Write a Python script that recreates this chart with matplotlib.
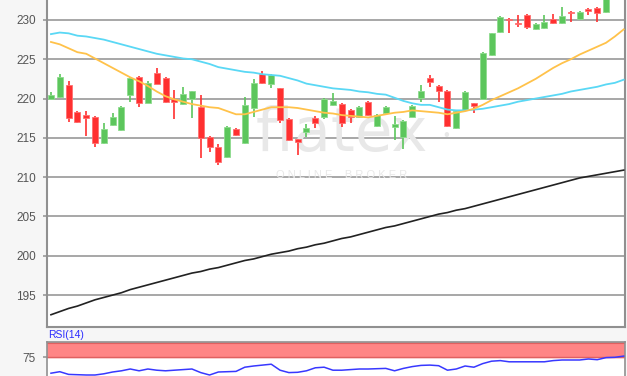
import numpy as np
import matplotlib
matplotlib.use("Agg")
import matplotlib.pyplot as plt

nan = np.nan
opens = [220.0, 220.2, 221.7, 218.3, 217.9, 217.7, 214.3, 216.6, 216.0, 220.5,
         222.8, 219.5, 223.3, 222.6, 220.0, 219.3, 220.0, 218.9, 215.1, 213.9,
         212.6, 216.1, 214.3, 218.8, 223.1, 221.8, 221.3, 217.4, 214.8, 215.8,
         217.5, 217.6, 219.2, 219.3, 218.5, 217.6, 219.6, 216.5, 218.2, 216.4,
         215.1, 217.7, 220.1, 222.6, 221.6, 221.0, 216.2, 218.5, 219.4, 220.0,
         225.5, 228.5, 230.1, 229.6, 230.6, 228.8, 229.0, 230.1, 229.6, 231.0,
         230.1, 231.4, 231.5, 231.0, nan, nan]
highs = [220.8, 223.1, 222.2, 218.4, 218.4, 217.8, 216.9, 218.2, 219.1, 222.8,
         222.9, 222.2, 223.9, 222.8, 221.1, 221.5, 221.0, 220.5, 215.2, 214.2,
         216.5, 216.2, 220.2, 222.5, 223.5, 223.1, 221.4, 217.5, 214.9, 216.8,
         217.8, 220.1, 220.7, 219.4, 218.7, 219.0, 219.7, 218.0, 219.0, 217.8,
         217.3, 219.2, 221.7, 223.0, 221.7, 221.1, 218.6, 220.9, 219.5, 225.9,
         228.4, 230.5, 230.2, 230.6, 230.7, 229.6, 230.6, 230.8, 231.6, 231.2,
         231.1, 231.5, 231.6, 233.5, nan, nan]
lows = [219.9, 220.1, 217.0, 216.9, 215.3, 213.9, 214.2, 216.5, 215.9, 219.6,
        218.9, 219.4, 221.8, 219.5, 217.4, 219.2, 217.5, 212.4, 213.2, 211.6,
        212.5, 215.3, 214.2, 217.6, 221.9, 221.3, 216.9, 214.6, 212.8, 215.1,
        216.3, 217.4, 219.1, 216.4, 216.9, 217.5, 217.8, 216.4, 218.1, 214.7,
        213.6, 217.6, 219.6, 221.5, 219.6, 216.4, 216.1, 218.4, 218.2, 219.9,
        225.4, 228.4, 228.3, 229.1, 228.9, 228.7, 228.9, 229.5, 229.5, 229.7,
        230.0, 230.6, 229.7, 230.9, nan, nan]
closes = [220.5, 222.7, 217.5, 217.0, 217.5, 214.4, 216.1, 217.6, 218.9, 222.6,
          219.5, 222.0, 221.9, 219.6, 219.6, 220.6, 220.9, 215.0, 213.9, 211.9,
          216.4, 215.4, 219.2, 222.0, 222.0, 223.0, 217.3, 214.7, 214.5, 216.3,
          216.9, 220.0, 219.7, 216.9, 217.6, 218.9, 217.9, 217.9, 218.9, 216.8,
          217.2, 219.1, 221.0, 222.1, 221.0, 216.5, 218.4, 220.8, 219.0, 225.8,
          228.3, 230.4, 230.0, 229.5, 229.1, 229.5, 229.7, 229.6, 230.5, 230.9,
          231.0, 231.1, 230.9, 233.0, nan, nan]

ma_cyan = [228.2, 228.4, 228.3, 228.0, 227.9, 227.7, 227.5, 227.2, 226.9, 226.6,
           226.3, 226.0, 225.7, 225.5, 225.3, 225.1, 225.0, 224.7, 224.4, 224.0,
           223.8, 223.6, 223.4, 223.3, 223.1, 223.0, 222.9, 222.6, 222.3, 221.9,
           221.7, 221.5, 221.3, 221.2, 221.1, 220.9, 220.8, 220.6, 220.5, 220.1,
           219.7, 219.4, 219.2, 219.2, 218.9, 218.6, 218.5, 218.5, 218.6, 218.7,
           218.9, 219.1, 219.3, 219.6, 219.8, 220.0, 220.2, 220.4, 220.6, 220.9,
           221.1, 221.3, 221.5, 221.8, 222.0, 222.4]
ma_orange = [227.2, 226.9, 226.4, 225.9, 225.7, 225.1, 224.5, 223.9, 223.3, 222.7,
             222.2, 221.6, 220.9, 220.3, 219.9, 219.6, 219.3, 219.1, 218.9, 218.8,
             218.4, 218.0, 218.0, 218.3, 218.6, 218.9, 218.9, 218.9, 218.8, 218.6,
             218.4, 218.2, 218.1, 217.9, 217.8, 217.7, 217.6, 217.8, 218.0, 218.2,
             218.3, 218.5, 218.4, 218.3, 218.2, 218.0, 218.2, 218.4, 218.7, 219.2,
             219.8, 220.3, 220.8, 221.3, 221.9, 222.5, 223.2, 223.9, 224.5, 225.0,
             225.6, 226.1, 226.6, 227.1, 227.9, 228.8]
ma_black = [192.5, 192.9, 193.3, 193.6, 194.0, 194.4, 194.7, 195.0, 195.3, 195.7,
            196.0, 196.3, 196.6, 196.9, 197.2, 197.5, 197.8, 198.0, 198.3, 198.5,
            198.8, 199.1, 199.4, 199.6, 199.9, 200.2, 200.4, 200.6, 200.9, 201.1,
            201.4, 201.6, 201.9, 202.2, 202.4, 202.7, 203.0, 203.3, 203.6, 203.8,
            204.1, 204.4, 204.7, 205.0, 205.3, 205.5, 205.8, 206.0, 206.3, 206.6,
            206.9, 207.2, 207.5, 207.8, 208.1, 208.4, 208.7, 209.0, 209.3, 209.6,
            209.9, 210.1, 210.3, 210.5, 210.7, 210.9]
rsi = [48, 50.5, 46, 45.5, 45, 45, 47, 50, 52, 55, 52, 55, 53, 52, 53, 54, 55, 49,
       45, 50, 50.5, 51, 58, 60, 61.5, 63, 53, 49, 49.5, 52, 57, 58, 53, 53, 54,
       55, 55, 55.5, 56, 52, 56, 59, 61, 61.5, 60.5, 53, 55, 60, 58, 64, 68, 69,
       67, 67, 67, 67, 67, 69, 70, 70, 70, 71.7, 70.5, 74, 74.5, 76.5]

price_ticks = [195, 200, 205, 210, 215, 220, 225, 230]
rsi_ticks = [75]

W, H = 627, 376
plt.rcParams["font.family"] = ["Liberation Sans", "DejaVu Sans"]
fig = plt.figure(figsize=(W / 100, H / 100), dpi=100)
fig.patch.set_facecolor("#f6f6f6")

ax = fig.add_axes([47 / W, (H - 327) / H, 578 / W, 327 / H])
ax.set_facecolor("white")
x = np.arange(len(opens))
o = np.array(opens); c = np.array(closes); hi = np.array(highs); lo = np.array(lows)
valid = ~np.isnan(o)
up = valid & (c >= o)
dn = valid & (c < o)
green, red = "#5cc65c", "#ff3030"
ax.vlines(x[up], lo[up], hi[up], color=green, lw=1.2, zorder=3)
ax.vlines(x[dn], lo[dn], hi[dn], color=red, lw=1.2, zorder=3)
ax.bar(x[up], c[up] - o[up], bottom=o[up], width=0.68, color=green,
       edgecolor="#8fdc8f", linewidth=0.6, zorder=4)
ax.bar(x[dn], o[dn] - c[dn], bottom=c[dn], width=0.68, color=red,
       edgecolor="#ff7070", linewidth=0.6, zorder=4)
ax.plot(x, ma_cyan, color="#5ad8f5", lw=1.3, zorder=5)
ax.plot(x, ma_orange, color="#ffc24a", lw=1.3, zorder=5)
ax.plot(x, ma_black, color="#222222", lw=1.2, zorder=5)

ax.set_xlim(-0.45, 65.15)
ax.set_ylim(190.94, 232.54)
ax.set_yticks(price_ticks)
ax.set_yticklabels([str(t) for t in price_ticks])
ax.set_xticks([])
ax.grid(axis="y", color="#a0a0a0", lw=1.3, zorder=1)
ax.tick_params(axis="y", length=3, width=1.3, color="#a0a0a0", pad=5,
               labelsize=8.5, labelcolor="#555555")
for s in ["left", "bottom", "right"]:
    ax.spines[s].set_color("#909090")
    ax.spines[s].set_linewidth(1.5)
ax.spines["top"].set_visible(False)

# watermark
ax.text(0.51, 0.59, "flatex", transform=ax.transAxes, ha="center", va="center",
        fontsize=44, color="#e8e8e8", family="DejaVu Sans", zorder=2)
ax.text(0.69, 0.585, "\u2022", transform=ax.transAxes, ha="center", va="center",
        fontsize=12, color="#e8e8e8", zorder=2)
ax.text(0.51, 0.465, "O N L I N E    B R O K E R", transform=ax.transAxes,
        ha="center", va="center", fontsize=8, color="#e8e8e8", zorder=2)

# RSI panel
ax2 = fig.add_axes([47 / W, (H - 402) / H, 578 / W, 60 / H])
ax2.set_facecolor("white")
ax2.set_xlim(-0.45, 65.15)
ax2.set_ylim(0, 100)
ax2.axhspan(75, 100, color="#ff8585", zorder=1)
ax2.axhline(75, color="#e06060", lw=1, zorder=2)
ax2.axhline(98, color="#e06060", lw=0.8, zorder=2)
ax2.plot(x, rsi, color="#3838ff", lw=1.1, zorder=3)
ax2.set_yticks(rsi_ticks)
ax2.set_yticklabels([str(t) for t in rsi_ticks])
ax2.set_xticks([])
ax2.tick_params(axis="y", length=3, width=1.3, color="#a0a0a0", pad=5,
                labelsize=8.5, labelcolor="#555555")
for s in ["left", "right", "top"]:
    ax2.spines[s].set_color("#909090")
    ax2.spines[s].set_linewidth(1.2)
fig.text(48 / W, (H - 335) / H, "RSI(14)", color="#2a2aff", fontsize=7.5,
         ha="left", va="center")

fig.savefig("out.png", dpi=100, facecolor=fig.get_facecolor())
